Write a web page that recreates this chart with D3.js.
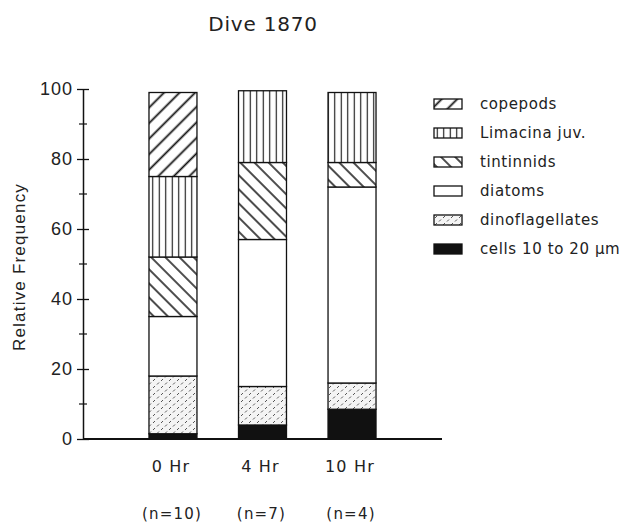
<!DOCTYPE html>
<html>
<head>
<meta charset="utf-8">
<script src="https://cdn.jsdelivr.net/npm/d3@7"></script>
<style>
  body { margin: 0; background: #fff; }
  svg { display: block; }
  .label { font-family: "DejaVu Sans", sans-serif; fill: #222; }
  .num { font-family: "Liberation Sans", Arial, sans-serif; fill: #222; }
</style>
</head>
<body>
<svg id="chart" width="633" height="522"></svg>
<script>
// Dive 1870, relative frequency of food items by digestion time
const times = ["0 Hr", "4 Hr", "10 Hr"];
const sampleSizes = ["(n=10)", "(n=7)", "(n=4)"];
// stacked bottom to top
const groups = ["cells", "dinoflagellates", "diatoms", "tintinnids", "limacina", "copepods"];
const cells = [1.5, 4, 8.5];
const dinoflagellates = [16.5, 11, 7.5];
const diatoms = [17, 42, 56];
const tintinnids = [17, 22, 7];
const limacina = [23, 20.5, 20];
const copepods = [24, 0, 0];
const yTicks = [0, 20, 40, 60, 80, 100];
const yMinorTicks = [10, 30, 50, 70, 90];
// legend goes top to bottom
const legendKeys = ["copepods", "limacina", "tintinnids", "diatoms", "dinoflagellates", "cells"];
const legendLabels = ["copepods", "Limacina juv.", "tintinnids", "diatoms", "dinoflagellates", "cells 10 to 20 \u03bcm"];

const series = {cells, dinoflagellates, diatoms, tintinnids, limacina, copepods};
const rows = times.map((t, i) => {
  const r = {time: t};
  groups.forEach(g => { r[g] = series[g][i]; });
  return r;
});

const svg = d3.select("#chart");
const margin = {top: 89, left: 83, bottom: 439};

const x = d3.scaleBand().domain(times).range([margin.left, 442])
    .paddingInner(0.464).paddingOuter(0.737);
const y = d3.scaleLinear().domain([0, 100]).range([margin.bottom, margin.top]);

// fill patterns
const defs = svg.append("defs");
function hatch(id, size, angle, sw) {
  const p = defs.append("pattern").attr("id", id)
      .attr("patternUnits", "userSpaceOnUse")
      .attr("width", size).attr("height", size)
      .attr("patternTransform", "rotate(" + angle + ")");
  p.append("rect").attr("width", size).attr("height", size).attr("fill", "#fff");
  p.append("line").attr("x1", size / 2).attr("y1", 0).attr("x2", size / 2).attr("y2", size)
      .attr("stroke", "#111").attr("stroke-width", sw);
}
hatch("pat-copepods", 11, 45, 1.8);
hatch("pat-limacina", 6.5, 0, 1.1);
hatch("pat-tintinnids", 10, -45, 1.5);

const dino = defs.append("pattern").attr("id", "pat-dino")
    .attr("patternUnits", "userSpaceOnUse").attr("width", 8).attr("height", 7);
dino.append("rect").attr("width", 8).attr("height", 7).attr("fill", "#f4f4f4");
dino.append("line").attr("x1", 1).attr("y1", 3).attr("x2", 3).attr("y2", 1)
    .attr("stroke", "#444").attr("stroke-width", 0.9);
dino.append("line").attr("x1", 5).attr("y1", 6.5).attr("x2", 7).attr("y2", 4.5)
    .attr("stroke", "#444").attr("stroke-width", 0.9);

const fills = {
  copepods: "url(#pat-copepods)",
  limacina: "url(#pat-limacina)",
  tintinnids: "url(#pat-tintinnids)",
  diatoms: "#fff",
  dinoflagellates: "url(#pat-dino)",
  cells: "#111"
};

// title
svg.append("text").attr("class", "label")
    .attr("x", 263).attr("y", 31).attr("text-anchor", "middle")
    .attr("font-size", 20).attr("letter-spacing", 0.8).text("Dive 1870");

// stacked bars
const stacked = d3.stack().keys(groups)(rows);
svg.append("g").selectAll("g")
  .data(stacked)
  .join("g")
    .attr("fill", d => fills[d.key])
  .selectAll("rect")
  .data(d => d.filter(s => s[1] - s[0] > 0))
  .join("rect")
    .attr("x", d => x(d.data.time))
    .attr("y", d => y(d[1]))
    .attr("width", x.bandwidth())
    .attr("height", d => y(d[0]) - y(d[1]))
    .attr("stroke", "#111")
    .attr("stroke-width", 1.3);

// y axis: major ticks cross the line, minor ticks unlabeled
const yAxis = d3.axisLeft(y).tickValues(yTicks).tickSizeInner(6).tickSizeOuter(0).tickPadding(6);
const yg = svg.append("g").attr("transform", "translate(" + margin.left + ",0)").call(yAxis);
yg.select(".domain").attr("stroke", "#111").attr("stroke-width", 1.5);
yg.selectAll(".tick line").attr("x2", 6).attr("x1", -6).attr("stroke", "#111").attr("stroke-width", 1.3);
yg.selectAll(".tick text").attr("class", "num").attr("font-size", 18)
    .attr("letter-spacing", 1).attr("x", -10).attr("fill", "#222");
yg.selectAll(".minor").data(yMinorTicks).join("line")
    .attr("x1", -4).attr("x2", 4)
    .attr("y1", d => y(d)).attr("y2", d => y(d))
    .attr("stroke", "#111").attr("stroke-width", 1.2);

// baseline
svg.append("line")
    .attr("x1", margin.left).attr("x2", x.range()[1])
    .attr("y1", y(0)).attr("y2", y(0))
    .attr("stroke", "#111").attr("stroke-width", 1.8);

// y axis title
svg.append("text").attr("class", "num")
    .attr("transform", "translate(25," + ((y(0) + y(100)) / 2 + 3) + ") rotate(-90)")
    .attr("text-anchor", "middle").attr("font-size", 17).attr("letter-spacing", 1.2)
    .text("Relative Frequency");

// category labels
const xg = svg.append("g");
xg.selectAll("text.time").data(times).join("text")
    .attr("class", "label time")
    .attr("x", d => x(d) + x.bandwidth() / 2 - 2).attr("y", 472)
    .attr("text-anchor", "middle").attr("font-size", 16).attr("letter-spacing", 1.2)
    .text(d => d);
xg.selectAll("text.n").data(sampleSizes).join("text")
    .attr("class", "label n")
    .attr("x", (d, i) => x(times[i]) + x.bandwidth() / 2 - 1).attr("y", 519)
    .attr("text-anchor", "middle").attr("font-size", 15).attr("letter-spacing", 1.2)
    .text(d => d);

// legend
const legend = svg.append("g").attr("transform", "translate(434,99)");
const item = legend.selectAll("g").data(legendKeys).join("g")
    .attr("transform", (d, i) => "translate(0," + (i * 29) + ")");
item.append("rect")
    .attr("width", 28).attr("height", 10)
    .attr("fill", d => fills[d])
    .attr("stroke", "#111").attr("stroke-width", 1.3);
item.append("text").attr("class", "label")
    .attr("x", 46).attr("y", 10)
    .attr("font-size", 15).attr("letter-spacing", 0.6)
    .text((d, i) => legendLabels[i]);
</script>
</body>
</html>
